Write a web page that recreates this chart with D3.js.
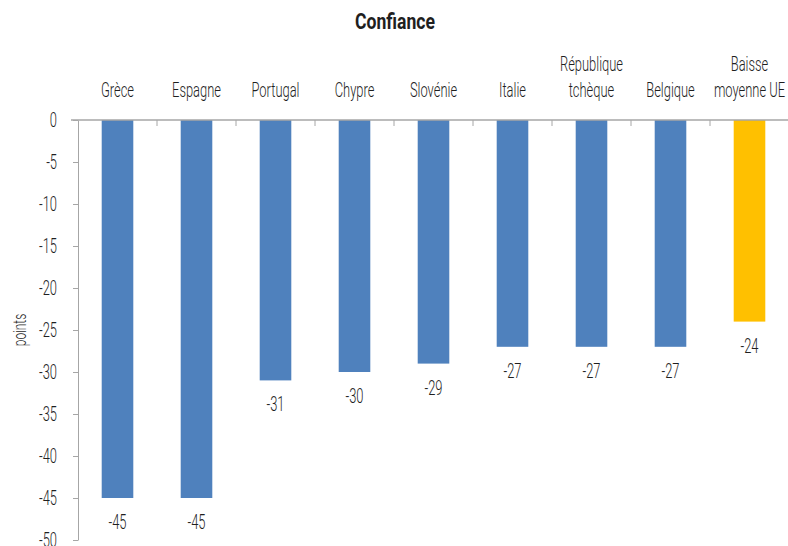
<!DOCTYPE html>
<meta charset="utf-8">
<script src="https://d3js.org/d3.v7.min.js"></script>
<style>
  body { margin: 0; background: #fff; }
  text { font-family: Roboto, "DejaVu Sans", sans-serif; fill: #1f1f1f; }
</style>
<div id="chart"></div>
<script>

// categories (line breaks with |)
var countries = ["Grèce", "Espagne", "Portugal", "Chypre", "Slovénie", "Italie", "République|tchèque", "Belgique", "Baisse|moyenne UE"];
var values = [-45, -45, -31, -30, -29, -27, -27, -27, -24];
var barColors = ["#4f81bd", "#4f81bd", "#4f81bd", "#4f81bd", "#4f81bd", "#4f81bd", "#4f81bd", "#4f81bd", "#ffc000"];
var yTicks = [0, -5, -10, -15, -20, -25, -30, -35, -40, -45, -50];

var W = 788, H = 546;
var SX = 0.63; // squeeze to mimic condensed face
var FS = "20.5px";

var svg = d3.select("#chart").append("svg")
  .attr("width", W)
  .attr("height", H);

var x = d3.scaleBand()
  .domain(countries)
  .range([78, 789])
  .padding(0);

var y = d3.scaleLinear()
  .domain([0, -50])
  .range([120, 540]);

function cx(d) { return x(d) + x.bandwidth() / 2; }

// title
svg.append("text")
  .attr("transform", "translate(395,29) scale(0.8,1)")
  .attr("text-anchor", "middle")
  .style("font-size", "22px")
  .style("font-weight", "bold")
  .attr("fill", "#1a1a1a")
  .text("Confiance");

// y axis
var yAxis = svg.append("g")
  .attr("transform", "translate(78,0)")
  .call(d3.axisLeft(y).tickValues(yTicks).tickSize(5).tickSizeOuter(0)
    .tickFormat(function(d) { return String(d); }));
yAxis.select(".domain").attr("stroke", "#a6a6a6");
yAxis.selectAll(".tick line").attr("stroke", "#a6a6a6");
yAxis.selectAll(".tick text")
  .attr("x", 0)
  .attr("dy", "0.32em")
  .attr("transform", "translate(-21,0) scale(" + SX + ",1)")
  .attr("fill", "#1f1f1f")
  .style("font-size", FS)
  .style("font-weight", 300)
  .style("font-family", "Roboto, sans-serif");

// axis title
svg.append("text")
  .attr("transform", "translate(26,330) rotate(-90) scale(" + SX + ",1)")
  .attr("text-anchor", "middle")
  .style("font-size", "19px")
  .style("font-weight", 300)
  .text("points");

// bars
var bw = x.bandwidth() * 0.4;
svg.selectAll("rect.bar")
  .data(countries)
  .enter()
  .append("rect")
    .attr("class", "bar")
    .attr("x", function(d) { return cx(d) - bw / 2; })
    .attr("y", y(0))
    .attr("width", bw)
    .attr("height", function(d, i) { return y(values[i]) - y(0); })
    .attr("fill", function(d, i) { return barColors[i]; });

// zero line + category ticks
svg.append("line")
  .attr("x1", 71).attr("x2", 789)
  .attr("y1", y(0)).attr("y2", y(0))
  .attr("stroke", "#a6a6a6")
  .attr("stroke-width", 1.5);
svg.append("g").selectAll("line")
  .data(countries.slice(1))
  .enter()
  .append("line")
    .attr("x1", function(d) { return x(d); })
    .attr("x2", function(d) { return x(d); })
    .attr("y1", y(0))
    .attr("y2", y(0) + 6)
    .attr("stroke", "#a6a6a6");

// category labels
svg.selectAll("text.cat")
  .data(countries)
  .enter()
  .append("text")
    .attr("class", "cat")
    .attr("text-anchor", "middle")
    .attr("transform", function(d) { return "translate(" + cx(d) + ",97) scale(" + SX + ",1)"; })
    .style("font-size", FS)
    .style("font-weight", 300)
    .each(function(d) {
      var parts = d.split("|");
      var t = d3.select(this);
      parts.forEach(function(p, i) {
        t.append("tspan")
          .attr("x", 0)
          .attr("dy", i == 0 ? -(parts.length - 1) * 26 : 26)
          .text(p);
      });
    });

// value labels
svg.selectAll("text.val")
  .data(countries)
  .enter()
  .append("text")
    .attr("class", "val")
    .attr("text-anchor", "middle")
    .attr("transform", function(d, i) { return "translate(" + cx(d) + "," + (y(values[i]) + 31) + ") scale(" + SX + ",1)"; })
    .style("font-size", FS)
    .style("font-weight", 300)
    .text(function(d, i) { return values[i]; });

</script>
